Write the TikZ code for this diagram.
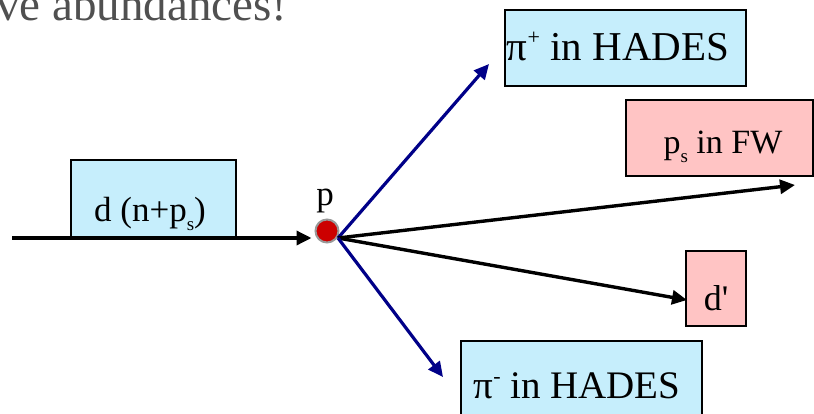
\documentclass[tikz,border=0pt]{standalone}
\usepackage{fontspec}
\setmainfont{Liberation Serif}
\usetikzlibrary{arrows.meta}
\definecolor{boxblue}{HTML}{C6EEFC}
\definecolor{boxpink}{HTML}{FFC4C4}
\definecolor{navyline}{HTML}{000088}
\definecolor{dotred}{HTML}{CC0000}
\definecolor{titlegrey}{HTML}{505050}
\newcommand{\mysub}[1]{\raisebox{-0.28em}{\fontsize{19}{20}\selectfont #1}}
\newcommand{\mysup}[1]{\raisebox{0.38em}{\fontsize{22}{22}\selectfont #1}}
\tikzset{
  bluebox/.style={draw=black, line width=1.6pt, fill=boxblue, inner sep=0pt, anchor=center},
  pinkbox/.style={draw=black, line width=1.6pt, fill=boxpink, inner sep=0pt, anchor=center},
  txt/.style={inner sep=0pt, anchor=base},
  blackarrow/.style={draw=black, line width=3.4pt, -{Triangle[length=15pt,width=14pt]}},
  bluearrow/.style={draw=navyline, line width=3.2pt, -{Triangle[length=15pt,width=14pt]}},
}
\begin{document}
\begin{tikzpicture}[x=1pt,y=-1pt]
\useasboundingbox (0,0) rectangle (814,413);
\clip (0,0) rectangle (814,413);
% title fragment
\node[txt, anchor=base west, text=titlegrey, font=\fontsize{47}{50}\selectfont] (title) at (-4,20) {ve abundances!};
% boxes
\node[bluebox, minimum width=165pt, minimum height=78pt] (dbox) at (153.5,199) {};
\node[txt, font=\fontsize{35}{38}\selectfont] (dtext) at (150,221) {d (n+p\mysub{s})};
\node[bluebox, minimum width=241pt, minimum height=76pt] (piplus) at (625.5,48) {};
\node[txt, font=\fontsize{41}{44}\selectfont] (piplustext) at (618,60) {π\mysup{+} in HADES};
\node[pinkbox, minimum width=187pt, minimum height=76pt] (psfw) at (719.5,138) {};
\node[txt, font=\fontsize{34}{36}\selectfont] (psfwtext) at (723,153) {p\mysub{s} in FW};
\node[pinkbox, minimum width=60pt, minimum height=75pt] (dprime) at (716,288.5) {};
\node[txt, font=\fontsize{36}{38}\selectfont] (dprimetext) at (716,310) {d\textquotesingle};
\node[bluebox, minimum width=241pt, minimum height=80pt] (piminus) at (581.5,381) {};
\node[txt, font=\fontsize{39}{42}\selectfont] (piminustext) at (577,398) {π\mysup{-} in HADES};
% target dot
\node[circle, fill=dotred, draw=black!40, line width=2pt, minimum size=23pt, inner sep=0pt] (dot) at (327,231) {};
\node[txt, font=\fontsize{35}{36}\selectfont] (plabel) at (325,205) {p};
% connectors
\coordinate (start) at (12,238);
\coordinate (o) at (338,238);
\coordinate (tipplus) at (489,64);
\coordinate (tipfw) at (795,185);
\coordinate (tipd) at (687,300);
\coordinate (tipminus) at (443,377);
\draw[blackarrow, shorten >=3pt] (start) -- (start -| dot.west);
\draw[bluearrow] (o) -- (tipplus);
\draw[blackarrow] (o) -- (tipfw);
\draw[blackarrow] (o) -- (tipd);
\draw[bluearrow] (o) -- (tipminus);
\end{tikzpicture}
\end{document}
